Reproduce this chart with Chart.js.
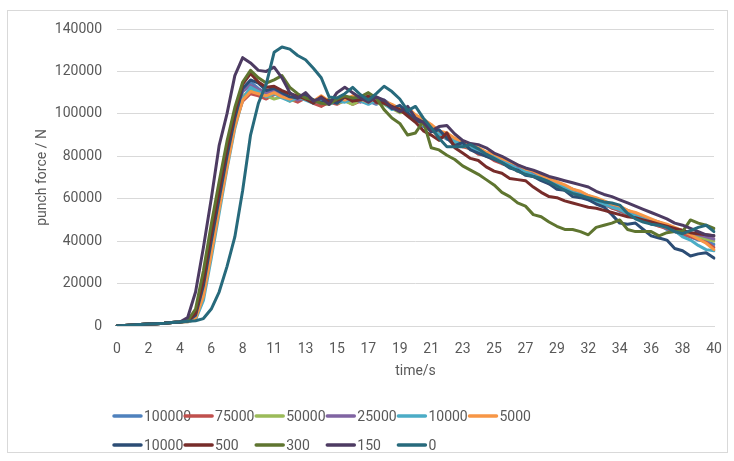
<!DOCTYPE html>
<html>
<head>
<meta charset="utf-8">
<script src="https://cdn.jsdelivr.net/npm/chart.js@4.4.1/dist/chart.umd.min.js"></script>
<style>
  html, body { margin: 0; padding: 0; background: #ffffff; }
  #wrap { position: relative; width: 734px; height: 461px; }
</style>
</head>
<body>
<div id="wrap"><canvas id="chart" width="734" height="461"></canvas></div>
<script>
// Sample times (s)
const times = [
  0, 0.53, 1.05, 1.58, 2.11, 2.63, 3.16, 3.68, 4.21, 4.74,
  5.26, 5.79, 6.32, 6.84, 7.37, 7.89, 8.42, 8.95, 9.47, 10.00,
  10.53, 11.05, 11.58, 12.11, 12.63, 13.16, 13.68, 14.21, 14.74, 15.26,
  15.79, 16.32, 16.84, 17.37, 17.89, 18.42, 18.95, 19.47, 20.00, 20.53,
  21.05, 21.58, 22.11, 22.63, 23.16, 23.68, 24.21, 24.74, 25.26, 25.79,
  26.32, 26.84, 27.37, 27.89, 28.42, 28.95, 29.47, 30.00, 30.53, 31.05,
  31.58, 32.11, 32.63, 33.16, 33.68, 34.21, 34.74, 35.26, 35.79, 36.32,
  36.84, 37.37, 37.89, 38.42, 38.95, 39.47, 40.00
];

const seriesNames = ['100000', '75000', '50000', '25000', '10000', '5000', '10000', '500', '300', '150', '0'];
const seriesColors = ['#4F81BD', '#C0504D', '#9BBB59', '#8064A2', '#4BACC6', '#F79646',
                      '#2C4D75', '#772C2A', '#5F7530', '#4D3B62', '#276A7C'];

// Punch force (N)
const force100000 = [
  0, 250, 500, 700, 900, 1100, 1300, 1600, 1900,
  2300, 5500, 21000, 42000, 62000, 81000, 99000, 111000, 115000,
  112000, 109500, 110500, 109000, 107500, 106000, 108000, 106500, 104000, 106500,
  105500, 107000, 105000, 107500, 106000, 104500, 106500, 104000, 101000, 101500,
  98500, 94000, 94500, 90500, 88000, 87500, 85000, 84500, 82000, 81000,
  78500, 77500, 75000, 74000, 71500, 71000, 69000, 67500, 66000, 64500,
  62500, 61500, 59500, 58500, 57000, 56000, 54000, 53000, 51000, 50000,
  48000, 47500, 45500, 44500, 43000, 42000, 40500, 40000, 38500
];
const force75000 = [
  0, 250, 500, 700, 900, 1100, 1300, 1600, 1900,
  2200, 4500, 18000, 38000, 58000, 77000, 95000, 106000, 109500,
  108500, 107000, 109000, 110000, 107000, 105500, 107500, 105000, 103500, 105500,
  104500, 106500, 104500, 106000, 105000, 106500, 105500, 103000, 102000, 100000,
  97000, 95500, 92500, 89500, 89000, 86000, 84500, 83500, 81000, 80500,
  78000, 76500, 75500, 73000, 72000, 70500, 69500, 67000, 66500, 64000,
  63000, 61000, 60000, 58000, 57500, 55500, 54500, 52500, 51500, 50000,
  48500, 47000, 46000, 44500, 43500, 42000, 41000, 39500, 37000
];
const force50000 = [
  0, 250, 500, 700, 900, 1100, 1300, 1600, 1900,
  2300, 5000, 20000, 40000, 60000, 79000, 97000, 108000, 111500,
  110000, 108500, 107000, 108000, 106000, 107000, 108500, 106000, 105500, 107000,
  105000, 106000, 104500, 106500, 107500, 105000, 104500, 102500, 100500, 101000,
  97500, 95000, 93000, 91000, 88500, 86500, 85500, 83500, 82500, 80000,
  79000, 77000, 76000, 74500, 72500, 71500, 69500, 68000, 66000, 65000,
  63500, 62000, 60500, 59000, 57500, 56500, 55000, 53500, 52000, 51000,
  49500, 48000, 47000, 45500, 44500, 43500, 42000, 41000, 40000
];
const force25000 = [
  0, 250, 500, 700, 900, 1100, 1300, 1600, 1900,
  2500, 6000, 22000, 43000, 63000, 82000, 100000, 110500, 113500,
  111500, 110000, 111000, 109500, 108000, 106500, 107500, 105500, 106500, 105000,
  107000, 106000, 107500, 105500, 107000, 105000, 106000, 103500, 101500, 102500,
  99000, 96500, 93500, 91500, 89500, 87000, 86000, 84000, 83000, 81500,
  79500, 78000, 76500, 75000, 73500, 72000, 70500, 69000, 67500, 66000,
  64500, 63000, 61500, 60000, 58500, 57000, 56000, 54500, 53000, 51500,
  50000, 49000, 47500, 46000, 45000, 44000, 43000, 42000, 41000
];
const force10000a = [
  0, 250, 500, 700, 900, 1100, 1300, 1600, 1900,
  2000, 3000, 12000, 32000, 53000, 74000, 93000, 107000, 112500,
  110500, 108000, 109500, 107500, 106000, 108000, 106500, 105000, 107000, 104500,
  106000, 105500, 107000, 106000, 104500, 106500, 105000, 102000, 103000, 101000,
  98000, 96000, 94000, 90500, 89500, 87000, 85500, 84500, 82500, 80500,
  80000, 77500, 76000, 74000, 73000, 71000, 70000, 68000, 66500, 65500,
  63000, 62000, 60000, 59000, 57500, 56000, 55000, 53000, 52000, 50500,
  49000, 47500, 46500, 45000, 42000, 40500, 38000, 36000, 35500
];
const force5000 = [
  0, 250, 500, 700, 900, 1100, 1300, 1600, 1900,
  2000, 3500, 14000, 34000, 55000, 75000, 94000, 106500, 110500,
  109500, 108500, 110000, 108000, 107000, 108500, 107000, 106000, 108500, 106000,
  107500, 106500, 108500, 107000, 105500, 107500, 106000, 104500, 102500, 103000,
  99500, 97500, 95000, 92000, 91000, 88500, 87000, 85500, 84000, 82000,
  81000, 79000, 77500, 76000, 74000, 73000, 71000, 69500, 68000, 66500,
  64500, 63500, 61500, 60500, 59000, 57500, 56500, 54500, 53500, 52000,
  50500, 49000, 48000, 46500, 45000, 43000, 41000, 39000, 36000
];
const force10000b = [
  0, 250, 500, 700, 900, 1100, 1300, 1600, 1900,
  2300, 5000, 19000, 40000, 60000, 80000, 98000, 112000, 116000,
  114500, 111000, 112000, 110000, 108000, 107500, 109000, 106500, 105500, 106500,
  105000, 108000, 106500, 108500, 106000, 108000, 105500, 102500, 104000, 100500,
  97000, 95500, 91500, 92500, 88500, 85000, 86500, 83000, 81500, 80000,
  78500, 77000, 74500, 73500, 71000, 70500, 68500, 67000, 64500, 64000,
  61000, 60500, 59500, 57500, 56000, 52500, 48500, 48000, 48500, 45500,
  42500, 41500, 40500, 36500, 35500, 33000, 34000, 34500, 32000
];
const force500 = [
  0, 250, 500, 700, 900, 1100, 1300, 1600, 1900,
  2300, 6000, 22000, 44000, 64000, 84000, 101000, 114000, 119000,
  115000, 112500, 113000, 111000, 109500, 108500, 107000, 105000, 108000, 105500,
  106500, 108000, 106000, 106500, 108500, 105500, 105000, 103500, 102000, 99000,
  96000, 92000, 90000, 87500, 91000, 84000, 81500, 79000, 78000, 75000,
  73000, 72000, 69500, 69000, 68500, 65500, 63000, 61000, 60500, 59000,
  58000, 57000, 56000, 55500, 54500, 53500, 52500, 51500, 51000, 50000,
  49000, 48000, 47000, 46000, 45000, 44000, 43500, 43000, 42500
];
const force300 = [
  0, 250, 500, 700, 900, 1100, 1300, 1600, 1900,
  2500, 8000, 26000, 48000, 68000, 87000, 103000, 115000, 120500,
  117000, 114500, 116000, 118000, 112500, 109500, 107500, 106500, 105000, 104500,
  107000, 108500, 107500, 108000, 110000, 107500, 102000, 98000, 95500, 90000,
  91000, 96500, 84000, 83000, 80500, 78500, 75500, 73500, 71500, 69000,
  66500, 63000, 61000, 58000, 56500, 52500, 51500, 49000, 47000, 45500,
  45500, 44500, 43000, 46500, 47500, 48500, 50000, 45500, 44500, 44500,
  44500, 42500, 44000, 44500, 44500, 50000, 48500, 47500, 46000
];
const force150 = [
  0, 250, 500, 700, 900, 1100, 1300, 1600, 1900,
  4000, 16000, 37000, 60000, 85000, 100000, 118000, 126500, 124000,
  120500, 120000, 122000, 117000, 110000, 107500, 110000, 106000, 107500, 104500,
  110000, 112500, 110000, 107500, 105500, 108000, 106500, 103000, 101000, 103500,
  98000, 96000, 92000, 94000, 94500, 90500, 87500, 86000, 85500, 84000,
  81500, 80000, 78000, 76000, 74500, 73500, 72000, 70500, 69500, 68500,
  67500, 66500, 65500, 63500, 62000, 61000, 59500, 58000, 56500, 55000,
  53500, 52000, 50500, 48500, 47500, 46000, 44500, 43000, 42500
];
const force0 = [
  0, 250, 500, 700, 900, 1100, 1300, 1600, 1900,
  2200, 2500, 3500, 8000, 16000, 28000, 42000, 64000, 90000,
  105000, 114000, 129000, 131500, 130500, 127500, 125500, 121500, 117000, 108000,
  107500, 109500, 112500, 109000, 106500, 109500, 113000, 110500, 107000, 101500,
  103500, 98000, 93500, 88500, 84500, 84500, 84500, 85500, 83500, 81000,
  79000, 77000, 75000, 73000, 71500, 70500, 69500, 68000, 66000, 64000,
  62500, 61500, 60500, 59500, 58500, 58000, 57000, 53000, 50500, 49000,
  48000, 47500, 46500, 44500, 43500, 45000, 46500, 47500, 44500
];

const seriesData = [force100000, force75000, force50000, force25000, force10000a, force5000,
                    force10000b, force500, force300, force150, force0];

const textColor = '#595959';
const gridColor = '#D9D9D9';
const fontFamily = 'Roboto, "Liberation Sans", sans-serif';

// White page, light frame round the whole chart
const frame = {
  id: 'frame',
  beforeDraw(chart) {
    const ctx = chart.ctx;
    ctx.save();
    ctx.fillStyle = '#ffffff';
    ctx.fillRect(0, 0, chart.width, chart.height);
    ctx.strokeStyle = gridColor;
    ctx.lineWidth = 1;
    ctx.strokeRect(7.5, 10.5, 720, 442);
    ctx.restore();
  }
};

// Legend laid out on a fixed grid of six columns
const gridLegend = {
  id: 'gridLegend',
  afterDraw(chart) {
    const ctx = chart.ctx;
    const left = 114, colWidth = 71.1, top = 416, rowHeight = 29;
    ctx.save();
    ctx.font = '14px ' + fontFamily;
    ctx.textBaseline = 'middle';
    ctx.textAlign = 'left';
    chart.data.datasets.forEach((ds, i) => {
      const x = left + (i % 6) * colWidth;
      const y = top + Math.floor(i / 6) * rowHeight;
      ctx.strokeStyle = ds.borderColor;
      ctx.lineWidth = 3.5;
      ctx.lineCap = 'round';
      ctx.beginPath();
      ctx.moveTo(x, y);
      ctx.lineTo(x + 27, y);
      ctx.stroke();
      ctx.fillStyle = textColor;
      ctx.fillText(ds.label, x + 30, y + 1);
    });
    ctx.restore();
  }
};

const datasets = seriesNames.map((name, i) => ({
  label: name,
  data: seriesData[i],
  borderColor: seriesColors[i],
  backgroundColor: seriesColors[i],
  borderWidth: 3,
  pointRadius: 0,
  tension: 0,
  borderJoinStyle: 'round',
  borderCapStyle: 'round',
  fill: false,
  order: -i
}));

new Chart(document.getElementById('chart'), {
  type: 'line',
  data: { labels: times, datasets },
  options: {
    responsive: false,
    animation: false,
    devicePixelRatio: 1,
    layout: { padding: { left: 0, right: 20, top: 29, bottom: 81 } },
    plugins: { legend: { display: false }, tooltip: { enabled: false } },
    scales: {
      x: {
        type: 'category',
        offset: false,
        grid: { display: false },
        border: { display: true, color: gridColor },
        ticks: {
          autoSkip: false,
          minRotation: 0,
          maxRotation: 0,
          padding: 7,
          color: textColor,
          font: { family: fontFamily, size: 14 },
          callback: (value, index) => (index % 4 === 0 ? String(Math.round(times[index])) : '')
        },
        title: {
          display: true,
          text: 'time/s',
          color: textColor,
          font: { family: fontFamily, size: 14 },
          padding: { top: 0, bottom: 0 }
        },
        afterFit: (scale) => { scale.height = 54; }
      },
      y: {
        min: 0,
        max: 140000,
        grid: { color: gridColor, drawTicks: false, lineWidth: 1 },
        border: { display: false },
        ticks: {
          stepSize: 20000,
          padding: 15,
          color: textColor,
          font: { family: fontFamily, size: 14 },
          callback: (value) => String(value)
        },
        title: {
          display: true,
          text: 'punch force / N',
          color: textColor,
          font: { family: fontFamily, size: 14 },
          padding: { top: 34, bottom: 0 }
        },
        afterFit: (scale) => { scale.width = 117; }
      }
    }
  },
  plugins: [frame, gridLegend]
});
</script>
</body>
</html>
